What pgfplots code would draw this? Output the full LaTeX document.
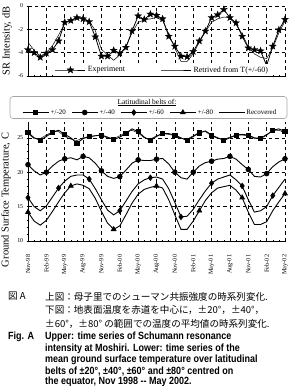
\documentclass[border=0pt]{standalone}
\usepackage{fontspec}
\setmainfont{Liberation Serif}
\newfontfamily\jpfont{Noto Sans CJK JP}
\newfontfamily\capfont[FakeStretch=0.86]{Liberation Sans}
\usepackage{pgfplots}
\usepackage{pgfplotstable}
\pgfplotsset{compat=1.18}

\pgfdeclareplotmark{fstar}{%
  \pgfpathmoveto{\pgfpointpolar{90}{\pgfplotmarksize}}%
  \pgfpathlineto{\pgfpointpolar{126}{0.42\pgfplotmarksize}}%
  \pgfpathlineto{\pgfpointpolar{162}{\pgfplotmarksize}}%
  \pgfpathlineto{\pgfpointpolar{198}{0.42\pgfplotmarksize}}%
  \pgfpathlineto{\pgfpointpolar{234}{\pgfplotmarksize}}%
  \pgfpathlineto{\pgfpointpolar{270}{0.42\pgfplotmarksize}}%
  \pgfpathlineto{\pgfpointpolar{306}{\pgfplotmarksize}}%
  \pgfpathlineto{\pgfpointpolar{342}{0.42\pgfplotmarksize}}%
  \pgfpathlineto{\pgfpointpolar{18}{\pgfplotmarksize}}%
  \pgfpathlineto{\pgfpointpolar{54}{0.42\pgfplotmarksize}}%
  \pgfpathclose\pgfusepathqfillstroke}

\pgfplotstableread{
m exp ret
0 -3.75 -3.1
1 -4.0 -3.8
2 -4.4 -4.3
3 -4.05 -4.0
4 -3.75 -3.4
5 -3.0 -2.5
6 -1.4 -1.5
7 -1.25 -1.2
8 -1.0 -1.0
9 -1.1 -1.05
10 -1.35 -1.3
11 -2.65 -2.1
12 -4.3 -3.7
13 -4.3 -4.2
14 -3.8 -4.65
15 -4.05 -4.2
16 -3.55 -3.5
17 -2.15 -2.3
18 -0.85 -1.4
19 -1.15 -1.2
20 -0.7 -1.1
21 -0.8 -1.0
22 -1.1 -1.25
23 -2.6 -2.4
24 -3.45 -3.6
25 -4.3 -4.75
26 -4.35 -4.75
27 -3.9 -4.1
28 -3.0 -3.1
29 -2.15 -2.2
30 -1.0 -1.4
31 -0.75 -1.1
32 -0.3 -0.95
33 -1.0 -1.0
34 -1.45 -1.6
35 -2.6 -2.4
36 -3.6 -3.5
37 -3.75 -4.1
38 -3.85 -4.4
39 -5.1 -4.5
40 -3.45 -3.6
41 -2.05 -2.3
42 -1.15 -1.3
}\srtable

\pgfplotstableread{
m b20 r20 b40 b60 b80
0 25.8 25.6 21.1 16.3 14.2
1 25.0 24.9 20.2 15.0 12.9
2 24.65 24.9 19.6 14.4 12.3
3 25.2 25.4 20.0 15.1 13.0
4 25.8 25.9 20.9 16.4 14.3
5 26.1 25.9 21.6 17.7 15.7
6 25.5 25.2 21.95 18.7 17.0
7 25.0 24.8 22.1 19.4 18.0
8 24.2 24.6 21.8 19.6 18.3
9 24.9 25.0 22.3 19.6 18.1
10 25.15 25.2 22.1 19.0 17.6
11 25.3 25.3 21.3 17.6 16.2
12 25.4 25.3 20.2 16.0 14.3
13 25.1 25.0 19.4 14.5 12.6
14 24.75 24.9 19.1 13.8 11.7
15 25.1 25.3 19.35 14.4 12.2
16 25.65 25.8 20.3 15.8 13.8
17 26.3 26.1 21.3 17.2 15.5
18 25.9 25.7 21.8 18.3 16.8
19 25.1 25.0 21.7 18.9 17.5
20 24.6 24.8 21.7 19.2 17.8
21 25.2 25.3 21.9 19.3 18.0
22 25.65 25.6 22.0 19.0 17.7
23 25.6 25.5 21.2 17.6 16.0
24 25.4 25.3 20.0 15.6 13.8
25 25.0 24.9 19.2 13.5 11.7
26 24.6 24.8 19.0 13.6 11.7
27 25.2 25.3 20.0 14.6 12.9
28 25.7 25.8 20.9 16.0 14.4
29 26.0 25.9 21.4 17.3 15.9
30 25.4 25.3 21.6 18.4 17.0
31 25.0 24.9 21.9 19.0 17.7
32 24.65 24.8 22.0 19.3 17.9
33 25.0 25.1 22.3 19.6 18.1
34 25.4 25.4 21.9 18.9 17.4
35 25.5 25.4 21.1 18.0 16.3
36 25.4 25.3 20.4 16.0 14.2
37 25.0 24.9 19.4 14.2 12.4
38 24.9 25.0 19.3 14.4 12.4
39 25.4 25.5 19.8 15.0 12.8
40 26.1 26.0 20.8 16.6 14.4
41 26.3 26.1 21.5 17.8 15.7
42 25.9 25.7 21.95 19.0 16.9
}\gsttable

\pgfplotsset{
  common/.style={
    scale only axis,
    xmin=0, xmax=42,
    axis x line*=bottom, axis y line*=left,
    axis line style={-, line width=0.6pt},
    xtick={0,3,...,42},
    minor x tick num=2,
    grid=major,
    major grid style={black, line width=0.5pt, dash pattern=on 3.5bp off 3bp},
    tick style={black, line width=0.5pt},
    major tick length=2.5bp, minor tick length=2bp,
    tick align=center,
    /pgf/number format/assume math mode=true,
    tick label style={font=\fontsize{6}{7}\selectfont},
    legend cell align=left,
  },
}

\begin{document}
\begin{tikzpicture}
\path[use as bounding box] (0,-386bp) rectangle (292bp,0);

\begin{axis}[common,
  at={(28bp,-76bp)}, anchor=south west,
  width=257bp, height=70bp,
  ymin=-6, ymax=0, ytick={-6,-4,-2,0},
  yticklabels={-6,-4,-2,0},
  xticklabels={},
  legend columns=2,
  legend style={at={(0.5,0)}, anchor=center, xshift=6bp, yshift=6bp,
    draw=none, fill=white, inner sep=0.5bp,
    font=\fontsize{8}{9}\selectfont,
    /tikz/every even column/.append style={column sep=34bp}},
  legend image code/.code={\draw[mark repeat=2,mark phase=2,#1] plot coordinates {(0bp,0bp) (15bp,0bp) (30bp,0bp)};},
]
\addplot[black, line width=0.8pt, mark=fstar, mark size=3.6bp, mark options={solid, line width=0.3pt}] table[x=m, y=exp] {\srtable};
\addlegendentry{Experiment}
\addplot[black, line width=0.5pt] table[x=m, y=ret] {\srtable};
\addlegendentry{Retrived from T(+/-60)}
\end{axis}

\draw[gray!70, line width=0.6pt, rounded corners=3bp] (10bp,-96.5bp) rectangle (287bp,-118.5bp);
\node[font=\fontsize{7.5}{8}\selectfont] at (147bp,-102.5bp) {\underline{Latitudinal belts of:}};

\begin{axis}[common,
  at={(28bp,-241bp)}, anchor=south west,
  width=257bp, height=119bp,
  ymin=10, ymax=27.3, ytick={10,15,20,25},
  minor y tick num=4,
  xticklabels={Nov-98,Feb-99,May-99,Aug-99,Nov-99,Feb-00,May-00,Aug-00,Nov-00,Feb-01,May-01,Aug-01,Nov-01,Feb-02,May-02},
  x tick label style={rotate=90, anchor=east, yshift=0bp, xshift=-9bp, font=\fontsize{6.3}{7}\selectfont},
  legend columns=5,
  legend style={at={(0.5,1)}, anchor=center, xshift=-6.5bp, yshift=9.5bp,
    draw=none, fill=none, inner sep=0bp,
    font=\fontsize{7}{8}\selectfont,
    nodes={inner sep=1.5bp},
    /tikz/every even column/.append style={column sep=4bp}},
  legend image code/.code={\draw[mark repeat=2,mark phase=2,#1] plot coordinates {(0bp,0bp) (13bp,0bp) (26bp,0bp)};},
]
\addplot[black, line width=0.9pt, mark=square*, mark size=2.1bp, mark repeat=2, mark options={solid}] table[x=m, y=b20] {\gsttable};
\addlegendentry{+/-20}
\addplot[black, line width=0.9pt, mark=*, mark size=2.3bp, mark repeat=3, mark options={solid}] table[x=m, y=b40] {\gsttable};
\addlegendentry{+/-40}
\addplot[black, line width=0.9pt, mark=diamond*, mark size=2.6bp, mark repeat=5, mark options={solid}] table[x=m, y=b60] {\gsttable};
\addlegendentry{+/-60}
\addplot[black, line width=0.9pt, mark=triangle*, mark size=2.6bp, mark repeat=7, mark options={solid}] table[x=m, y=b80] {\gsttable};
\addlegendentry{+/-80}
\addplot[black, line width=0.45pt] table[x=m, y=r20] {\gsttable};
\addlegendentry{Recovered}
\end{axis}

\node[rotate=90, font=\fontsize{10.5}{12}\selectfont] at (7bp,-41bp) {SR Intensity, dB};
\node[rotate=90, font=\fontsize{10.5}{12}\selectfont] at (6bp,-200bp) {Ground Surface Temperature, C};

\begin{scope}[every node/.style={anchor=west, inner sep=0pt, font=\jpfont\fontsize{9.6}{11}\selectfont}]
\node at (8bp,-296.5bp) {図 A};
\node at (45bp,-296.5bp) {上図：母子里でのシューマン共振強度の時系列変化.};
\node at (45bp,-310bp) {下図：地表面温度を赤道を中心に，±20°，±40°，};
\node at (45bp,-323.5bp) {±60°，±80° の範囲での温度の平均値の時系列変化.};
\end{scope}
\begin{scope}[every node/.style={anchor=west, inner sep=0pt, font=\capfont\bfseries\fontsize{10.5}{12}\selectfont}]
\node at (8bp,-337bp) {Fig. A};
\node at (45bp,-337bp) {Upper: time series of Schumann resonance};
\node at (45bp,-348.5bp) {intensity at Moshiri. Lower: time series of the};
\node at (45bp,-360bp) {mean ground surface temperature over latitudinal};
\node at (45bp,-371.5bp) {belts of ±20°, ±40°, ±60° and ±80° centred on};
\node at (45bp,-381.5bp) {the equator, Nov 1998 -- May 2002.};
\end{scope}
\end{tikzpicture}
\end{document}
